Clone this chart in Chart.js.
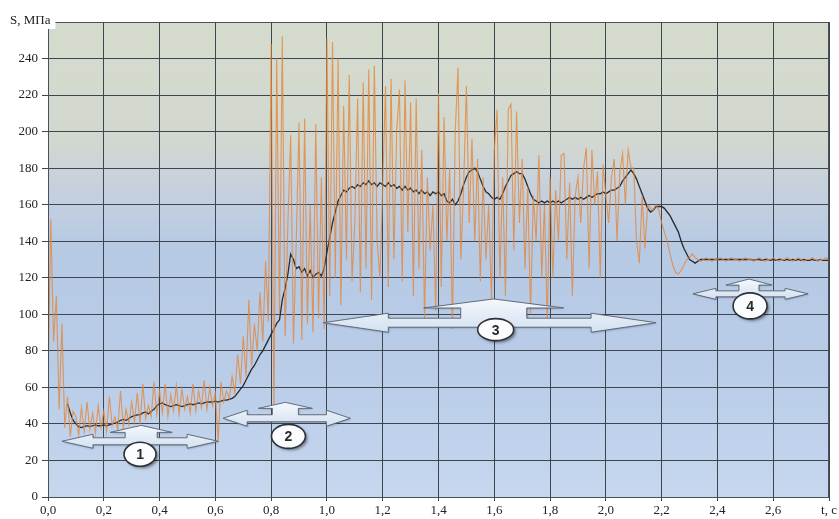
<!DOCTYPE html>
<html>
<head>
<meta charset="utf-8">
<title>S(t)</title>
<script src="https://cdn.jsdelivr.net/npm/chart.js@4.4.1/dist/chart.umd.min.js"></script>
<style>
  html, body { margin: 0; padding: 0; background: #fff; }
  #wrap { width: 839px; height: 519px; }
</style>
</head>
<body>
<div id="wrap"><canvas id="stress" width="839" height="519"></canvas></div>
<script>
/* ============================================
   Stress vs time — raw signal and smoothed curve
   ============================================ */

// sampling of both series
const T_START = 0;
const T_STEP = 0.01;

// axis ticks
const xTicks = [0, 0.2, 0.4, 0.6, 0.8, 1.0, 1.2, 1.4, 1.6, 1.8, 2.0, 2.2, 2.4, 2.6, 2.8];
const yTicks = [0, 20, 40, 60, 80, 100, 120, 140, 160, 180, 200, 220, 240, 260];
const xUnit = 't, c';
const yUnit = 'S, МПа';

// raw signal, MPa (one value per 0.01 s, 0.00 .. 2.80)
const rawS = [
  60, 152, 85, 110, 48, 95, 38, 55, 33, 47,
  44, 34, 49, 36, 52, 37, 46, 35, 50, 38,
  47, 36, 55, 39, 44, 37, 58, 38, 48, 40,
  52, 41, 57, 40, 62, 43, 50, 44, 63, 45,
  58, 46, 62, 44, 56, 47, 61, 45, 59, 48,
  55, 46, 62, 47, 58, 49, 64, 48, 60, 50,
  57, 30, 63, 52, 58, 54, 66, 57, 78, 62,
  88, 66, 108, 72, 95, 80, 112, 85, 129, 96,
  248, 44, 240, 100, 252, 88, 150, 198, 84, 140,
  205, 86, 207, 95, 160, 90, 204, 98, 175, 92,
  251, 110, 249, 120, 240, 105, 214, 130, 231, 118,
  150, 218, 112, 227, 125, 234, 108, 236, 140, 120,
  170, 225, 115, 229, 130, 200, 223, 118, 228, 145,
  216, 110, 218, 125, 190, 98, 175, 135, 160, 102,
  221, 115, 208, 140, 180, 92, 200, 235, 130, 170,
  225, 150, 196, 140, 185, 118, 175, 130, 160, 108,
  190, 212, 120, 175, 110, 212, 215, 135, 211, 150,
  185, 125, 170, 100, 165, 140, 187, 120, 160, 95,
  175, 120, 168, 140, 187, 188, 130, 172, 110, 165,
  175, 150, 180, 191, 125, 190, 160, 178, 120, 182,
  165, 150, 175, 185, 140, 178, 188, 160, 190, 180,
  180, 140, 128, 165, 136, 160, 158, 157, 160, 157,
  150, 145, 140, 133, 127, 123, 122, 124, 127, 130,
  131, 133, 131, 130, 129, 130, 131, 130, 129, 130,
  130, 131, 130, 129, 130, 131, 130, 130, 129, 130,
  131, 130, 130, 129, 130, 131, 130, 129, 130, 130,
  131, 130, 129, 130, 130, 131, 130, 129, 130, 131,
  130, 129, 130, 130, 131, 130, 129, 130, 130, 131,
  130
];

// smoothed curve, MPa (same sampling, starts at 0.07 s)
const smoothS = [
  null, null, null, null, null, null, null, 51, 46, 42,
  40, 38.5, 38, 38.5, 39, 38.5, 39, 39.5, 39, 39,
  39.5, 39, 39.5, 40, 40.5, 41, 42, 42.5, 42, 43,
  44, 44.5, 45, 45, 46, 46.5, 45.5, 47, 48, 50,
  51, 51.5, 50.5, 50, 49.5, 50, 50.5, 50, 49.5, 50,
  50.5, 51, 50.5, 51, 51.5, 51, 51.5, 52, 52, 52,
  52.5, 52, 52.5, 53, 53, 53.5, 54, 55, 57, 59,
  61, 64, 67, 70, 72, 75, 78, 80, 83, 86,
  89, 92, 95, 97, 108, 114, 122, 133, 130, 125,
  126, 123, 125, 121, 124, 120, 122, 123, 121, 125,
  134, 142, 150, 156, 162, 165, 168, 167, 169, 170,
  169, 171, 170, 172, 171, 173, 171, 172, 170, 172,
  171, 170, 172, 170, 171, 169, 170, 168, 170, 168,
  169, 167, 168, 166, 168, 166, 167, 165, 167, 166,
  167, 165, 166, 162, 161, 163, 160, 162, 166, 171,
  175, 178, 179, 180, 178, 174, 170, 167, 166, 164,
  163, 164, 163, 166, 170, 173, 176, 177, 178, 177,
  177, 174, 170, 166, 163, 162, 161, 162, 161, 162,
  161, 162, 161, 162, 161, 162, 163, 164, 163, 164,
  163, 164, 163, 164, 165, 164, 165, 166, 166, 167,
  166, 167, 168, 168, 169, 170, 173, 175, 177, 179,
  177, 174, 170, 166, 162, 158, 156, 157, 159, 159,
  159, 158, 156, 154, 151, 148, 145, 140, 136, 133,
  130, 129, 128, 129, 130, 130, 130, 130, 130, 130,
  130, 130, 130, 130, 130, 130, 130, 130, 130, 130,
  130, 130, 130, 129.5, 130, 130, 129.5, 130, 130, 129.5,
  130, 129.5, 130, 130, 129.5, 130, 129.5, 130, 129.5, 130,
  129.5, 130, 129.5, 129.5, 130, 129.5, 129.5, 130, 129.5, 129.5,
  129.5
];

// numbered stage arrows (t in s, levels in MPa)
const stageLabels = ['1', '2', '3', '4'];
const stageFrom = [0.05, 0.628, 0.987, 2.312];
const stageTo = [0.61, 1.084, 2.18, 2.725];
const stageLevel = [30.5, 43.1, 95.4, 111.2];
const stageRoofT = [0.334, 0.851, 1.598, 2.513];
const stageRoofS = [39.2, 51.8, 108.4, 119.3];
const stageBadgeT = [0.33, 0.862, 1.605, 2.517];
const stageBadgeS = [23.4, 33.2, 91.6, 104.6];

// arrow proportions in px: head length, head half-height, shaft half-height,
// roof half-width, roof height, stem half-width, badge radii
const stageShape = [
  { head: 31, headH: 7, shaftH: 3.5, roofW: 31, roofH: 7, stemW: 16, rx: 16, ry: 12 },
  { head: 24, headH: 8, shaftH: 3.5, roofW: 27, roofH: 6, stemW: 13, rx: 17, ry: 12 },
  { head: 65, headH: 9.5, shaftH: 4.5, roofW: 70, roofH: 9, stemW: 33, rx: 18, ry: 11 },
  { head: 23, headH: 5.5, shaftH: 3, roofW: 23, roofH: 6, stemW: 10, rx: 17, ry: 13 }
];

const toPoints = arr => arr.map((v, i) => ({ x: +(T_START + i * T_STEP).toFixed(2), y: v }));

const SERIF = '"Liberation Serif", "DejaVu Serif", serif';

const plotBackground = {
  id: 'plotBackground',
  beforeDraw(chart) {
    const { ctx, chartArea: a } = chart;
    const g = ctx.createLinearGradient(0, a.top, 0, a.bottom);
    g.addColorStop(0, '#d5dbcc');
    g.addColorStop(0.25, '#d2d8cf');
    g.addColorStop(0.34, '#c7d1dc');
    g.addColorStop(0.47, '#b7cae4');
    g.addColorStop(0.72, '#b8cce8');
    g.addColorStop(1, '#c6d7ee');
    ctx.save();
    ctx.fillStyle = g;
    ctx.fillRect(a.left, a.top, a.right - a.left, a.bottom - a.top);
    ctx.restore();
  },
  afterDraw(chart) {
    const { ctx, chartArea: a } = chart;
    ctx.save();
    ctx.strokeStyle = '#4b515a';
    ctx.lineWidth = 1;
    ctx.strokeRect(a.left + 0.5, a.top + 0.5, a.right - a.left - 1, a.bottom - a.top);
    // unit label of the S axis
    ctx.font = '13px ' + SERIF;
    const w = ctx.measureText(yUnit).width;
    ctx.fillStyle = '#fff';
    ctx.fillRect(7, 12, w + 8, 17);
    ctx.fillStyle = '#222';
    ctx.textBaseline = 'middle';
    ctx.fillText(yUnit, 10, 21);
    ctx.restore();
  }
};

const stageArrows = {
  id: 'stageArrows',
  afterDatasetsDraw(chart) {
    const { ctx, scales: { x, y } } = chart;
    stageLabels.forEach((label, i) => {
      const s = stageShape[i];
      const x1 = x.getPixelForValue(stageFrom[i]);
      const x2 = x.getPixelForValue(stageTo[i]);
      const y0 = y.getPixelForValue(stageLevel[i]);
      const cx = x.getPixelForValue(stageRoofT[i]);
      const apex = y.getPixelForValue(stageRoofS[i]);
      const base = apex + s.roofH;
      const pts = [
        [x1, y0], [x1 + s.head, y0 - s.headH], [x1 + s.head, y0 - s.shaftH],
        [cx - s.stemW, y0 - s.shaftH], [cx - s.stemW, base], [cx - s.roofW, base],
        [cx, apex],
        [cx + s.roofW, base], [cx + s.stemW, base], [cx + s.stemW, y0 - s.shaftH],
        [x2 - s.head, y0 - s.shaftH], [x2 - s.head, y0 - s.headH], [x2, y0],
        [x2 - s.head, y0 + s.headH], [x2 - s.head, y0 + s.shaftH],
        [x1 + s.head, y0 + s.shaftH], [x1 + s.head, y0 + s.headH]
      ];
      ctx.save();
      ctx.beginPath();
      pts.forEach(([px, py], k) => (k ? ctx.lineTo(px, py) : ctx.moveTo(px, py)));
      ctx.closePath();
      const g = ctx.createLinearGradient(0, apex, 0, y0 + s.headH);
      g.addColorStop(0, '#f4f8fc');
      g.addColorStop(1, '#d3e1f1');
      ctx.shadowColor = 'rgba(40,50,70,0.35)';
      ctx.shadowBlur = 2;
      ctx.shadowOffsetX = 1;
      ctx.shadowOffsetY = 1;
      ctx.fillStyle = g;
      ctx.fill();
      ctx.shadowColor = 'transparent';
      ctx.strokeStyle = '#56606e';
      ctx.lineWidth = 0.9;
      ctx.stroke();

      // numbered badge
      const bx = x.getPixelForValue(stageBadgeT[i]);
      const by = y.getPixelForValue(stageBadgeS[i]);
      ctx.beginPath();
      ctx.ellipse(bx, by, s.rx, s.ry, 0, 0, Math.PI * 2);
      ctx.shadowColor = 'rgba(0,0,0,0.45)';
      ctx.shadowBlur = 3;
      ctx.shadowOffsetX = 2;
      ctx.shadowOffsetY = 2;
      ctx.fillStyle = '#fbfcfd';
      ctx.fill();
      ctx.shadowColor = 'transparent';
      ctx.strokeStyle = '#2e3238';
      ctx.lineWidth = 1.6;
      ctx.stroke();
      ctx.fillStyle = '#2a2a2a';
      ctx.font = 'bold 14px "Liberation Sans", Arial, sans-serif';
      ctx.textAlign = 'center';
      ctx.textBaseline = 'middle';
      ctx.fillText(label, bx, by + 1);
      ctx.restore();
    });
  }
};

const fmtX = v => {
  const r = Math.round(v * 10) / 10;
  if (r >= 2.8) return xUnit;
  return r.toFixed(1).replace('.', ',');
};

new Chart(document.getElementById('stress'), {
  type: 'line',
  data: {
    datasets: [
      {
        label: 'raw',
        data: toPoints(rawS),
        borderColor: 'rgba(226, 134, 58, 0.8)',
        borderWidth: 1.1,
        pointRadius: 0,
        tension: 0
      },
      {
        label: 'smoothed',
        data: toPoints(smoothS),
        borderColor: '#262a2c',
        borderWidth: 1.3,
        pointRadius: 0,
        tension: 0,
        spanGaps: false
      }
    ]
  },
  options: {
    responsive: false,
    animation: false,
    devicePixelRatio: 1,
    layout: { padding: { top: 22, right: 10, left: 0, bottom: 0 } },
    plugins: { legend: { display: false }, tooltip: { enabled: false } },
    scales: {
      x: {
        type: 'linear',
        min: 0,
        max: 2.8,
        afterFit: s => { s.height = 22; },
        afterBuildTicks: s => { s.ticks = xTicks.map(v => ({ value: v })); },
        grid: { color: '#3f454e', lineWidth: 1, tickLength: 4, drawTicks: true },
        border: { color: '#3f454e' },
        ticks: {
          color: '#222',
          font: { family: SERIF, size: 13 },
          padding: 2,
          maxRotation: 0,
          autoSkip: false,
          callback: fmtX
        }
      },
      y: {
        min: 0,
        max: 260,
        afterFit: s => { s.width = 48; },
        afterBuildTicks: s => { s.ticks = yTicks.map(v => ({ value: v })); },
        grid: { color: '#3f454e', lineWidth: 1, tickLength: 6 },
        border: { color: '#3f454e' },
        ticks: {
          color: '#222',
          font: { family: SERIF, size: 13 },
          padding: 4,
          autoSkip: false,
          callback: v => (v >= 260 ? '' : String(v))
        }
      }
    }
  },
  plugins: [plotBackground, stageArrows]
});
</script>
</body>
</html>
